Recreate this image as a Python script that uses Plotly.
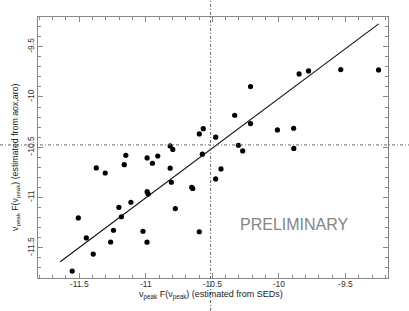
import plotly.graph_objects as go

# Scatter points: x = nu_peak F(nu_peak) from SEDs, y = from aox,aro
x_sed = [-11.553, -11.507, -11.447, -11.395, -11.372, -11.305, -11.264, -11.243,
         -11.202, -11.183, -11.162, -11.150, -11.112, -11.021, -10.991, -10.990,
         -10.990, -10.982, -10.950, -10.910, -10.817, -10.797, -10.817, -10.808,
         -10.778, -10.655, -10.647, -10.598, -10.598, -10.568, -10.575, -10.475,
         -10.475, -10.435, -10.332, -10.304, -10.272, -10.213, -10.213, -10.011,
         -9.889, -9.888, -9.848, -9.777, -9.535, -9.251]
y_aox = [-11.731, -11.203, -11.402, -11.562, -10.706, -10.756, -11.442, -11.325,
         -11.097, -11.191, -10.673, -10.580, -11.047, -11.335, -11.444, -10.606,
         -10.942, -10.965, -10.659, -10.587, -10.487, -10.522, -10.708, -10.848,
         -11.110, -10.898, -10.910, -11.340, -10.368, -10.315, -10.569, -10.400,
         -10.815, -10.716, -10.182, -10.480, -10.537, -9.897, -10.265, -10.328,
         -10.311, -10.512, -9.771, -9.741, -9.728, -9.731]

# Fitted line end points
fit_x = [-11.643, -9.25]
fit_y = [-11.638, -9.273]

# Reference (dotted) lines
ref_x = -10.513
ref_y = -10.477

# Axis ranges and ticks
x_range = [-11.81, -9.18]
y_range = [-11.80, -9.205]
x_tickvals = [-11.5, -11, -10.5, -10, -9.5]
x_ticktext = ["-11.5", "-11", "-10.5", "-10", "-9.5"]
y_tickvals = [-11.5, -11, -10.5, -10, -9.5]
y_ticktext = ["-11.5", "-11", "-10.5", "-10", "-9.5"]

x_title = "ν<sub>peak</sub> F(ν<sub>peak</sub>) (estimated from SEDs)"
y_title = "ν<sub>peak</sub> F(ν<sub>peak</sub>) (estimated from aox,aro)"

W, H = 409, 311
ml, mr, mt, mb = 38, 21, 17, 33
pw, ph = W - ml - mr, H - mt - mb
FONT = "Liberation Sans, Arial"

fig = go.Figure()
fig.add_trace(go.Scatter(x=fit_x, y=fit_y, mode="lines",
                         line=dict(color="#111", width=1.1), hoverinfo="skip"))
fig.add_trace(go.Scatter(x=x_sed, y=y_aox, mode="markers",
                         marker=dict(color="#000", size=5.2, line=dict(width=0))))

px_ref = (ref_x - x_range[0]) / (x_range[1] - x_range[0])
py_ref = (ref_y - y_range[0]) / (y_range[1] - y_range[0])
dot = dict(color="#666", width=1, dash="3px,2px,1px,2px")
fig.add_shape(type="line", xref="paper", yref="paper",
              x0=px_ref, x1=px_ref, y0=-mb / ph, y1=1 + mt / ph, line=dot)
fig.add_shape(type="line", xref="paper", yref="paper",
              x0=-ml / pw, x1=1 + mr / pw, y0=py_ref, y1=py_ref, line=dot)

fig.add_annotation(x=-9.88, y=-11.27, xref="x", yref="y", text="PRELIMINARY",
                   showarrow=False, font=dict(family=FONT, size=16, color="#858585"))

# Axis titles placed as annotations (pixel positions converted to paper coords)
fig.add_annotation(x=(211 - ml) / pw, y=(H - 295 - mb) / ph, xref="paper", yref="paper",
                   text=x_title, showarrow=False, xanchor="center", yanchor="middle",
                   font=dict(family=FONT, size=9, color="#222"))
fig.add_annotation(x=(15 - ml) / pw, y=(H - 157 - mb) / ph, xref="paper", yref="paper",
                   text=y_title, showarrow=False, textangle=-90, xanchor="center", yanchor="middle",
                   font=dict(family=FONT, size=8.8, color="#222"))

axis_common = dict(showgrid=False, zeroline=False, showline=True, linecolor="#888",
                   linewidth=1, mirror="allticks", ticks="inside", ticklen=5,
                   tickcolor="#888", tickwidth=1, automargin=False,
                   minor=dict(dtick=0.1, ticks="inside", ticklen=3, tickcolor="#888"),
                   tickfont=dict(family=FONT, size=8.5, color="#333"))

fig.update_xaxes(range=x_range, tickvals=x_tickvals, ticktext=x_ticktext,
                 ticklabelstandoff=-2, **axis_common)
fig.update_yaxes(range=y_range, tickvals=y_tickvals, ticktext=y_ticktext, tickangle=-90,
                 **axis_common)

fig.update_layout(width=W, height=H, margin=dict(l=ml, r=mr, t=mt, b=mb),
                  plot_bgcolor="white", paper_bgcolor="white", showlegend=False)

fig.write_html("out.html", config={"displayModeBar": False},
               post_script="document.body.style.margin='0px';document.body.style.overflow='hidden';")
